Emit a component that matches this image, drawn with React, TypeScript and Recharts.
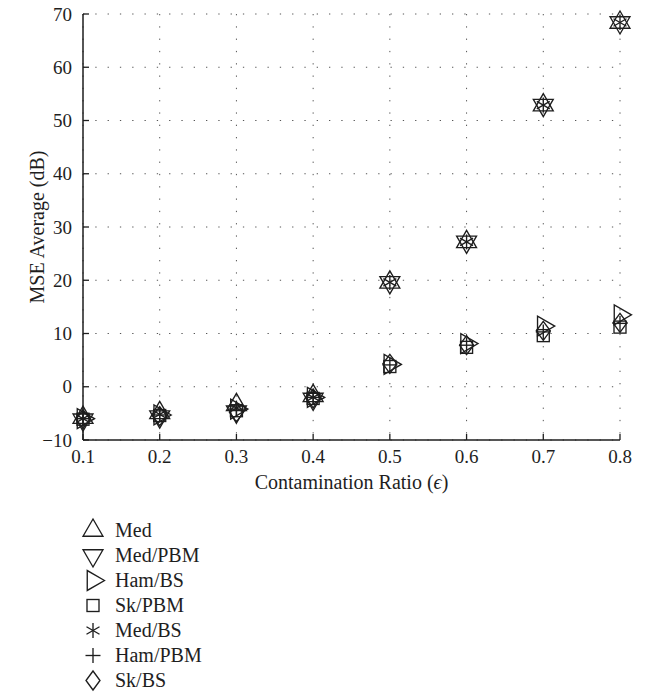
import React from 'react';
import { ScatterChart, Scatter, XAxis, YAxis, CartesianGrid, Legend } from 'recharts';

// ---- data ----
const ratios = [0.1, 0.2, 0.3, 0.4, 0.5, 0.6, 0.7, 0.8];
const medValues = [-5.8, -4.9, -3.4, -1.7, 19.6, 27.2, 52.9, 68.4];
const medPbmValues = [-6.2, -5.6, -4.7, -2.3, 19.6, 27.2, 52.9, 68.4];
const hamBsValues = [-6.0, -5.3, -4.2, -2.0, 4.2, 8.1, 11.4, 13.5];
const skPbmValues = [-6.1, -5.4, -4.5, -2.2, 3.8, 7.4, 9.6, 11.2];
const medBsValues = [-6.0, -5.2, -4.0, -2.0, 19.6, 27.2, 52.9, 68.4];
const hamPbmValues = [-6.0, -5.3, -4.2, -2.0, 4.1, 7.8, 10.3, 11.9];
const skBsValues = [-6.1, -5.5, -4.8, -2.2, 4.3, 7.8, 10.5, 12.0];

const seriesNames = ['Med', 'Med/PBM', 'Ham/BS', 'Sk/PBM', 'Med/BS', 'Ham/PBM', 'Sk/BS'];
const seriesValues = [medValues, medPbmValues, hamBsValues, skPbmValues, medBsValues, hamPbmValues, skBsValues];

const xTicks = [0.1, 0.2, 0.3, 0.4, 0.5, 0.6, 0.7, 0.8];
const yTicks = [-10, 0, 10, 20, 30, 40, 50, 60, 70];
const xMinorTicks = Array.from({ length: 71 }, (_, i) => Math.round((0.1 + i * 0.01) * 100) / 100);

// ---- styles ----
const FONT = '"Liberation Serif", "Times New Roman", serif';
const INK = '#1e1e1e';
const markerKinds = ['up', 'down', 'right', 'square', 'asterisk', 'plus', 'diamond'];

function Marker({ cx, cy, kind }: { cx: number; cy: number; kind: string }) {
  const common = { fill: 'none', stroke: INK, strokeWidth: 1.35 } as any;
  const r = 11.5;
  const s = 0.866 * r;
  if (cx == null || cy == null) return null;
  switch (kind) {
    case 'up':
      return <polygon {...common} points={`${cx},${cy - r} ${cx + s},${cy + r / 2} ${cx - s},${cy + r / 2}`} />;
    case 'down':
      return <polygon {...common} points={`${cx},${cy + r} ${cx + s},${cy - r / 2} ${cx - s},${cy - r / 2}`} />;
    case 'right':
      return <polygon {...common} points={`${cx + r},${cy} ${cx - r / 2},${cy - s} ${cx - r / 2},${cy + s}`} />;
    case 'square':
      return <rect {...common} x={cx - 6} y={cy - 6} width={12} height={12} />;
    case 'asterisk': {
      const a = 7.5;
      const dx = a * 0.866;
      const dy = a * 0.5;
      return (
        <g {...common}>
          <line x1={cx} y1={cy - a} x2={cx} y2={cy + a} />
          <line x1={cx - dx} y1={cy - dy} x2={cx + dx} y2={cy + dy} />
          <line x1={cx - dx} y1={cy + dy} x2={cx + dx} y2={cy - dy} />
        </g>
      );
    }
    case 'plus':
      return (
        <g {...common}>
          <line x1={cx - 7.5} y1={cy} x2={cx + 7.5} y2={cy} />
          <line x1={cx} y1={cy - 7.5} x2={cx} y2={cy + 7.5} />
        </g>
      );
    case 'diamond':
      return <polygon {...common} points={`${cx},${cy - 9.5} ${cx + 7},${cy} ${cx},${cy + 9.5} ${cx - 7},${cy}`} />;
    default:
      return null;
  }
}

const LegendContent = () => (
  <div style={{ fontFamily: FONT, fontSize: 20, color: INK }}>
    {seriesNames.map((name, i) => (
      <div key={name} style={{ display: 'flex', alignItems: 'center', height: 25 }}>
        <svg width={26} height={25} style={{ overflow: 'visible' }}>
          <Marker cx={13} cy={12.5} kind={markerKinds[i]} />
        </svg>
        <span style={{ marginLeft: 9, whiteSpace: 'nowrap' }}>{name}</span>
      </div>
    ))}
  </div>
);

const XLabel = (props: any) => {
  const vb = props.viewBox || {};
  return (
    <text x={vb.x + vb.width / 2} y={vb.y + 49} textAnchor="middle" fontFamily={FONT} fontSize={20} fill={INK}>
      Contamination Ratio (<tspan fontStyle="italic">ϵ</tspan>)
    </text>
  );
};

const YLabel = (props: any) => {
  const vb = props.viewBox || {};
  const cx = 37;
  const cy = vb.y + vb.height / 2;
  return (
    <text x={cx} y={cy} transform={`rotate(-90 ${cx} ${cy})`} textAnchor="middle" dominantBaseline="central" fontFamily={FONT} fontSize={20} fill={INK}>
      MSE Average (dB)
    </text>
  );
};

export default function App() {
  const datasets = seriesValues.map((vals) => ratios.map((x, i) => ({ x, y: vals[i] })));
  return (
    <div style={{ position: 'absolute', left: 0, top: 0, width: 649, height: 696, background: '#fff' }}>
      <ScatterChart width={649} height={696} margin={{ top: 14, right: 29, left: 0, bottom: 21 }}>
        <CartesianGrid xAxisId="main" yAxisId="main" stroke="#555" strokeWidth={1} strokeDasharray="1.3 11" />
        <XAxis
          xAxisId="minor"
          type="number"
          dataKey="x"
          domain={[0.1, 0.8]}
          ticks={xMinorTicks}
          interval={0}
          tick={false}
          tickSize={-3}
          axisLine={false}
          tickLine={{ stroke: INK, strokeWidth: 1 }}
          height={0}
        />
        <XAxis
          xAxisId="main"
          type="number"
          dataKey="x"
          domain={[0.1, 0.8]}
          ticks={xTicks}
          interval={0}
          tickFormatter={(v: number) => v.toFixed(1)}
          tickSize={-6}
          tickMargin={16}
          axisLine={{ stroke: INK, strokeWidth: 1.5 }}
          tickLine={{ stroke: INK, strokeWidth: 1.3 }}
          tick={{ fontFamily: FONT, fontSize: 19, fill: INK }}
          height={60}
          label={<XLabel />}
        />
        <YAxis
          yAxisId="main"
          type="number"
          dataKey="y"
          domain={[-10, 70]}
          ticks={yTicks}
          interval={0}
          tickFormatter={(v: number) => (v < 0 ? '\u2212' + Math.abs(v) : String(v))}
          tickSize={-6}
          tickMargin={17}
          axisLine={{ stroke: INK, strokeWidth: 1.5 }}
          tickLine={{ stroke: INK, strokeWidth: 1.3 }}
          tick={{ fontFamily: FONT, fontSize: 19, fill: INK }}
          width={83}
          label={<YLabel />}
        />
        {datasets.map((d, i) => (
          <Scatter
            key={seriesNames[i]}
            name={seriesNames[i]}
            data={d}
            xAxisId="main"
            yAxisId="main"
            isAnimationActive={false}
            shape={(p: any) => <Marker cx={p.cx} cy={p.cy} kind={markerKinds[i]} />}
          />
        ))}
        <Legend
          layout="vertical"
          verticalAlign="bottom"
          align="center"
          content={<LegendContent />}
          wrapperStyle={{ left: 80, top: 518, bottom: 'auto', width: 'auto' }}
        />
      </ScatterChart>
    </div>
  );
}
